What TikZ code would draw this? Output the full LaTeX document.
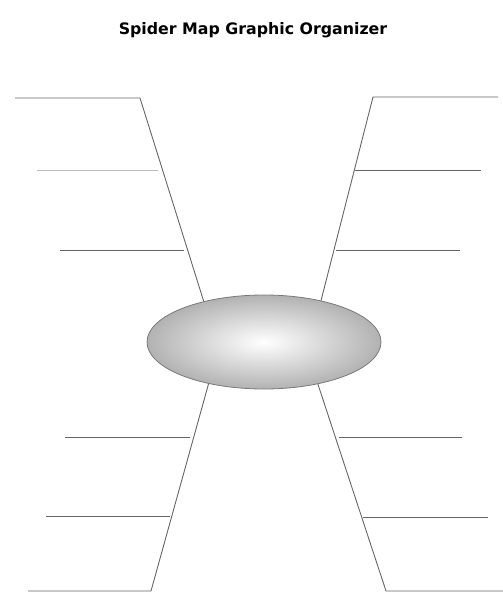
\documentclass[tikz,border=0pt]{standalone}
\usepackage{fontspec}
\setmainfont{DejaVu Sans}
\usetikzlibrary{shapes.geometric}
\definecolor{leg}{HTML}{666666}
\definecolor{faint}{HTML}{BDBDBD}
\definecolor{rim}{HTML}{7A7A7A}
\definecolor{shade}{HTML}{B2B2B2}
\begin{document}
\begin{tikzpicture}[x=1pt,y=-1pt,
  legline/.style={leg,line width=0.9pt},
  hubnode/.style={ellipse,draw=rim,line width=0.8pt,inner sep=0pt,
    minimum width=234pt,minimum height=94pt,
    inner color=white,outer color=shade}]
  \useasboundingbox (0,0) rectangle (503,594);

  % Title
  \node[font=\bfseries\fontsize{15.8}{18}\selectfont] (title) at (253,30) {Spider Map Graphic Organizer};

  % Centre
  \node[hubnode] (hub) at (264,342) {};

  % Upper left leg
  \coordinate (ulTop) at (140,98);
  \coordinate (ulA) at (15,98);
  \coordinate (ulB) at (158,170);  \coordinate (ulBe) at (37,170);
  \coordinate (ulC) at (184,250);  \coordinate (ulCe) at (60,250);
  \draw[legline] (hub.146) -- (ulTop) -- (ulA);
  \draw[faint,line width=0.9pt] (ulB) -- (ulBe);
  \draw[legline] (ulC) -- (ulCe);

  % Upper right leg
  \coordinate (urTop) at (373,97);
  \coordinate (urA) at (498,97);
  \coordinate (urB) at (355,170);  \coordinate (urBe) at (481,170);
  \coordinate (urC) at (336,250);  \coordinate (urCe) at (460,250);
  \draw[legline] (hub.36) -- (urTop) -- (urA);
  \draw[legline] (urB) -- (urBe);
  \draw[legline] (urC) -- (urCe);

  % Lower left leg
  \coordinate (llBot) at (151,591);
  \coordinate (llA) at (28,591);
  \coordinate (llB) at (190,437);  \coordinate (llBe) at (65,437);
  \coordinate (llC) at (170,516);  \coordinate (llCe) at (46,516);
  \draw[legline] (hub.217) -- (llBot) -- (llA);
  \draw[legline] (llB) -- (llBe);
  \draw[legline] (llC) -- (llCe);

  % Lower right leg
  \coordinate (lrBot) at (386,591);
  \coordinate (lrA) at (503,591);
  \coordinate (lrB) at (339,437);  \coordinate (lrBe) at (462,437);
  \coordinate (lrC) at (363,517);  \coordinate (lrCe) at (488,517);
  \draw[legline] (hub.322) -- (lrBot) -- (lrA);
  \draw[legline] (lrB) -- (lrBe);
  \draw[legline] (lrC) -- (lrCe);
\end{tikzpicture}
\end{document}
